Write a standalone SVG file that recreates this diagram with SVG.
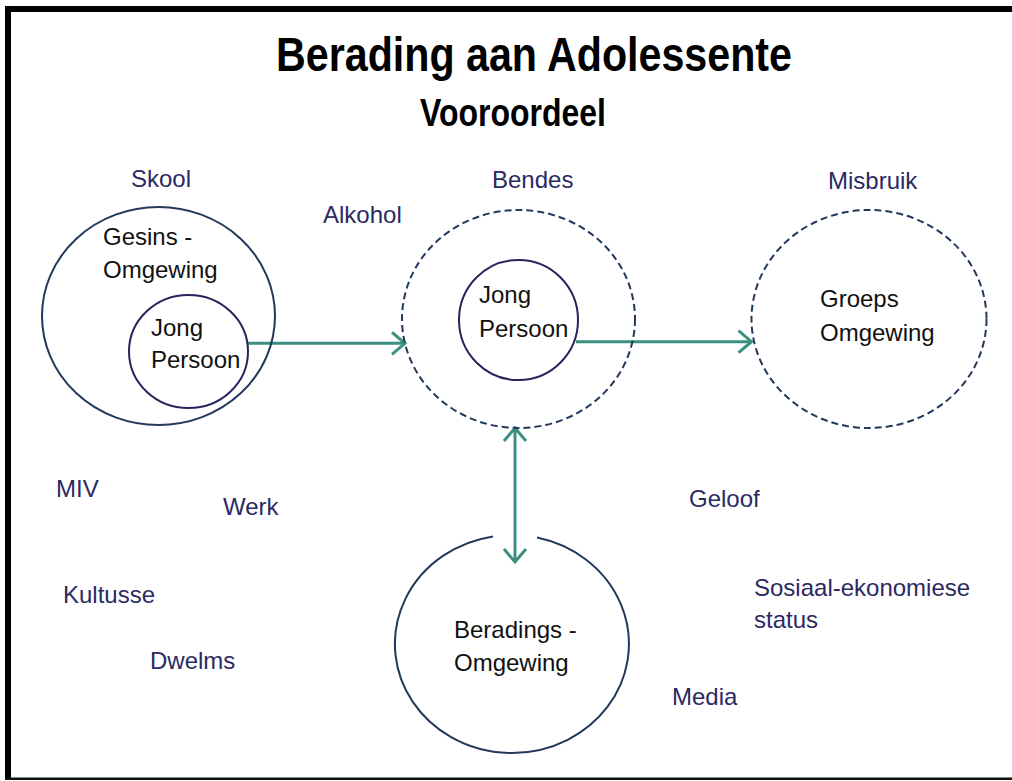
<svg xmlns="http://www.w3.org/2000/svg" width="1012" height="781" viewBox="0 0 1012 781">
  <style>
    .title { font-family: "Liberation Sans", Arial, sans-serif; font-weight: bold; fill: #000; }
    .lbl { font-family: "Liberation Sans", Arial, sans-serif; font-size: 24px; fill: #2b2a63; }
    .in { font-family: "Liberation Sans", Arial, sans-serif; font-size: 24px; fill: #111; }
    .outer { fill: none; stroke: #23395b; stroke-width: 2; }
    .dashed { fill: none; stroke: #23395b; stroke-width: 2; stroke-dasharray: 7 4; }
    .inner { fill: none; stroke: #26265e; stroke-width: 2; }
    .conn { fill: none; stroke: #3b8f80; stroke-width: 3; }
  </style>
  <defs>
    <marker id="chev" markerUnits="userSpaceOnUse" viewBox="-16 -15 19 30" refX="0" refY="0" markerWidth="19" markerHeight="30" orient="auto-start-reverse">
      <path d="M -13 -11 L 0 0 L -13 11" fill="none" stroke="#3b8f80" stroke-width="3"/>
    </marker>
  </defs>

  <rect x="0" y="0" width="1012" height="781" fill="#fff"/>
  <g id="frame">
    <rect x="5" y="6" width="1007" height="6" fill="#000"/>
    <rect x="5" y="6" width="6" height="774" fill="#000"/>
    <rect x="5" y="777.5" width="1007" height="2.5" fill="#111"/>
  </g>

  <g id="titles">
    <text class="title" x="276" y="71" font-size="48" textLength="516" lengthAdjust="spacingAndGlyphs">Berading aan Adolessente</text>
    <text class="title" x="420" y="126" font-size="38" textLength="186" lengthAdjust="spacingAndGlyphs">Vooroordeel</text>
  </g>

  <g id="connectors">
    <line class="conn" x1="248" y1="343.3" x2="405" y2="343.3" marker-end="url(#chev)"/>
    <line class="conn" x1="576" y1="341.7" x2="751.5" y2="341.7" marker-end="url(#chev)"/>
    <line class="conn" x1="515" y1="428" x2="515" y2="562" marker-start="url(#chev)" marker-end="url(#chev)"/>
  </g>

  <g id="gesin">
    <ellipse class="outer" cx="158.5" cy="316" rx="116.5" ry="109"/>
    <text class="in" x="103" y="245">Gesins -</text>
    <text class="in" x="103" y="278">Omgewing</text>
  </g>
  <g id="jong1">
    <ellipse class="inner" cx="188.5" cy="351.5" rx="59.5" ry="56.5"/>
    <text class="in" x="151" y="336">Jong</text>
    <text class="in" x="151" y="368">Persoon</text>
  </g>

  <g id="bendes">
    <ellipse class="dashed" cx="518.5" cy="319" rx="116.5" ry="109"/>
  </g>
  <g id="jong2">
    <ellipse class="inner" cx="518.5" cy="320" rx="59.5" ry="60"/>
    <text class="in" x="479" y="303">Jong</text>
    <text class="in" x="479" y="337">Persoon</text>
  </g>

  <g id="groep">
    <ellipse class="dashed" cx="869" cy="319" rx="117.5" ry="109"/>
    <text class="in" x="820" y="307">Groeps</text>
    <text class="in" x="820" y="341">Omgewing</text>
  </g>

  <g id="beradings">
    <path class="outer" d="M 537 537.5 A 117 109 0 1 1 493 536.4"/>
    <text class="in" x="454" y="638">Beradings -</text>
    <text class="in" x="454" y="671">Omgewing</text>
  </g>

  <g id="labels">
    <text class="lbl" x="131" y="187">Skool</text>
    <text class="lbl" x="323" y="223">Alkohol</text>
    <text class="lbl" x="492" y="188">Bendes</text>
    <text class="lbl" x="828" y="189">Misbruik</text>
    <text class="lbl" x="56" y="497">MIV</text>
    <text class="lbl" x="223" y="515">Werk</text>
    <text class="lbl" x="63" y="603">Kultusse</text>
    <text class="lbl" x="150" y="669">Dwelms</text>
    <text class="lbl" x="689" y="507">Geloof</text>
    <text class="lbl" x="754" y="596">Sosiaal-ekonomiese</text>
    <text class="lbl" x="754" y="628">status</text>
    <text class="lbl" x="672" y="705">Media</text>
  </g>
</svg>
